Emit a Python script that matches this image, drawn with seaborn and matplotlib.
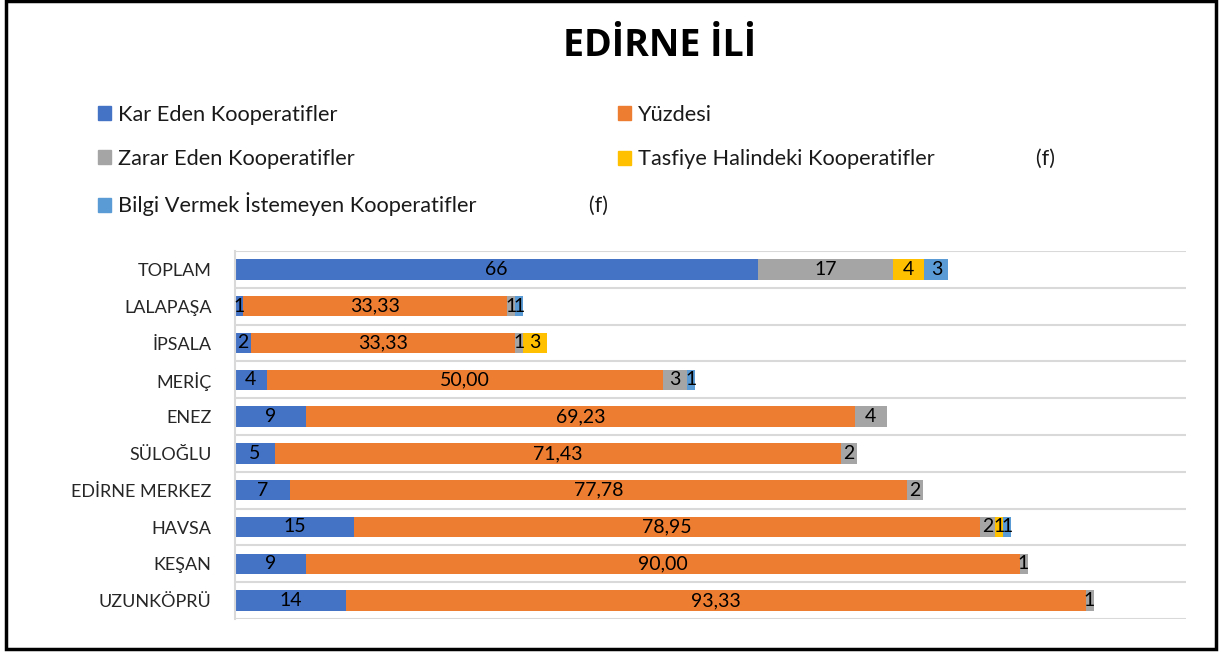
import matplotlib
matplotlib.use("Agg")
import matplotlib.pyplot as plt
import matplotlib.patches as mpatches
import numpy as np
import pandas as pd
import seaborn as sns

ilceler = ["TOPLAM", "LALAPAŞA", "İPSALA", "MERİÇ", "ENEZ", "SÜLOĞLU",
           "EDİRNE MERKEZ", "HAVSA", "KEŞAN", "UZUNKÖPRÜ"]
kar_eden = [66, 1, 2, 4, 9, 5, 7, 15, 9, 14]
yuzdesi = [0, 33.33, 33.33, 50.00, 69.23, 71.43, 77.78, 78.95, 90.00, 93.33]
zarar_eden = [17, 1, 1, 3, 4, 2, 2, 2, 1, 1]
tasfiye = [4, 0, 3, 0, 0, 0, 0, 1, 0, 0]
bilgi_yok = [3, 1, 0, 1, 0, 0, 0, 1, 0, 0]

seriler = ["Kar Eden Kooperatifler", "Yüzdesi", "Zarar Eden Kooperatifler",
           "Tasfiye Halindeki Kooperatifler", "Bilgi Vermek İstemeyen Kooperatifler"]
ekler = ["", "", "", " " * 18 + "(f)", " " * 20 + "(f)"]
renkler = ["#4472C4", "#ED7D31", "#A5A5A5", "#FFC000", "#5B9BD5"]

sns.set_style("white")
plt.rcParams["font.family"] = ["Lato", "DejaVu Sans"]

df = pd.DataFrame({"ilce": ilceler})
for s, v in zip(seriler, [kar_eden, yuzdesi, zarar_eden, tasfiye, bilgi_yok]):
    df[s] = v
cum = df[seriler].cumsum(axis=1)

fig = plt.figure(figsize=(12.25, 6.53), dpi=100)
ax = fig.add_axes([235 / 1225, 1 - 619 / 653, (1186 - 235) / 1225, (619 - 251) / 653])

# stacked bars: draw running totals from the back to the front
for i in reversed(range(len(seriler))):
    sns.barplot(x=cum[seriler[i]].values, y=df["ilce"], color=renkler[i], width=0.55,
                linewidth=0, saturation=1, orient="h", ax=ax)

for i, s in enumerate(seriler):
    for j in range(len(ilceler)):
        v = df[s][j]
        if v == 0:
            continue
        txt = f"{v:.2f}".replace(".", ",") if s == "Yüzdesi" else f"{v:.0f}"
        ax.text(cum[s][j] - v / 2, j, txt, ha="center", va="center", fontsize=14, color="black")

ax.set_xlim(0, 120)
ax.set_ylim(9.5, -0.5)
ax.set_xticks([])
ax.set_yticks(np.arange(-0.5, 10, 1), minor=True)
ax.grid(which="minor", axis="y", color="#D9D9D9", lw=1.5)
ax.grid(which="major", visible=False)
ax.tick_params(axis="y", which="both", length=0, pad=17, labelsize=13, labelcolor="#262626")
ax.set_xlabel("")
ax.set_ylabel("")
for k in ["top", "right", "bottom"]:
    ax.spines[k].set_visible(False)
ax.spines["left"].set_color("#D9D9D9")
ax.spines["left"].set_linewidth(1.5)

sira = [0, 2, 4, 1, 3]
handles = [mpatches.Patch(color=renkler[k]) for k in sira]
labels = [seriler[k] + ekler[k] for k in sira]
fig.legend(handles, labels, loc="upper left", bbox_to_anchor=(98 / 1225, 1 - 105 / 653),
           ncol=2, frameon=False, fontsize=15.7, handlelength=0.6, handleheight=0.6,
           handletextpad=0.32, labelspacing=1.09, columnspacing=0.47, borderpad=0,
           borderaxespad=0, labelcolor="#1a1a1a")

fig.text(660 / 1225, 1 - 46 / 653, "EDİRNE İLİ", ha="center", va="center",
         fontsize=27, fontweight="bold", color="black", family=["Open Sans", "DejaVu Sans"])

fig.patches.append(mpatches.Rectangle((0.005, 0.006), 0.988, 0.993, transform=fig.transFigure,
                                      fill=False, lw=2.5, ec="black"))

fig.savefig("out.png", dpi=100)
